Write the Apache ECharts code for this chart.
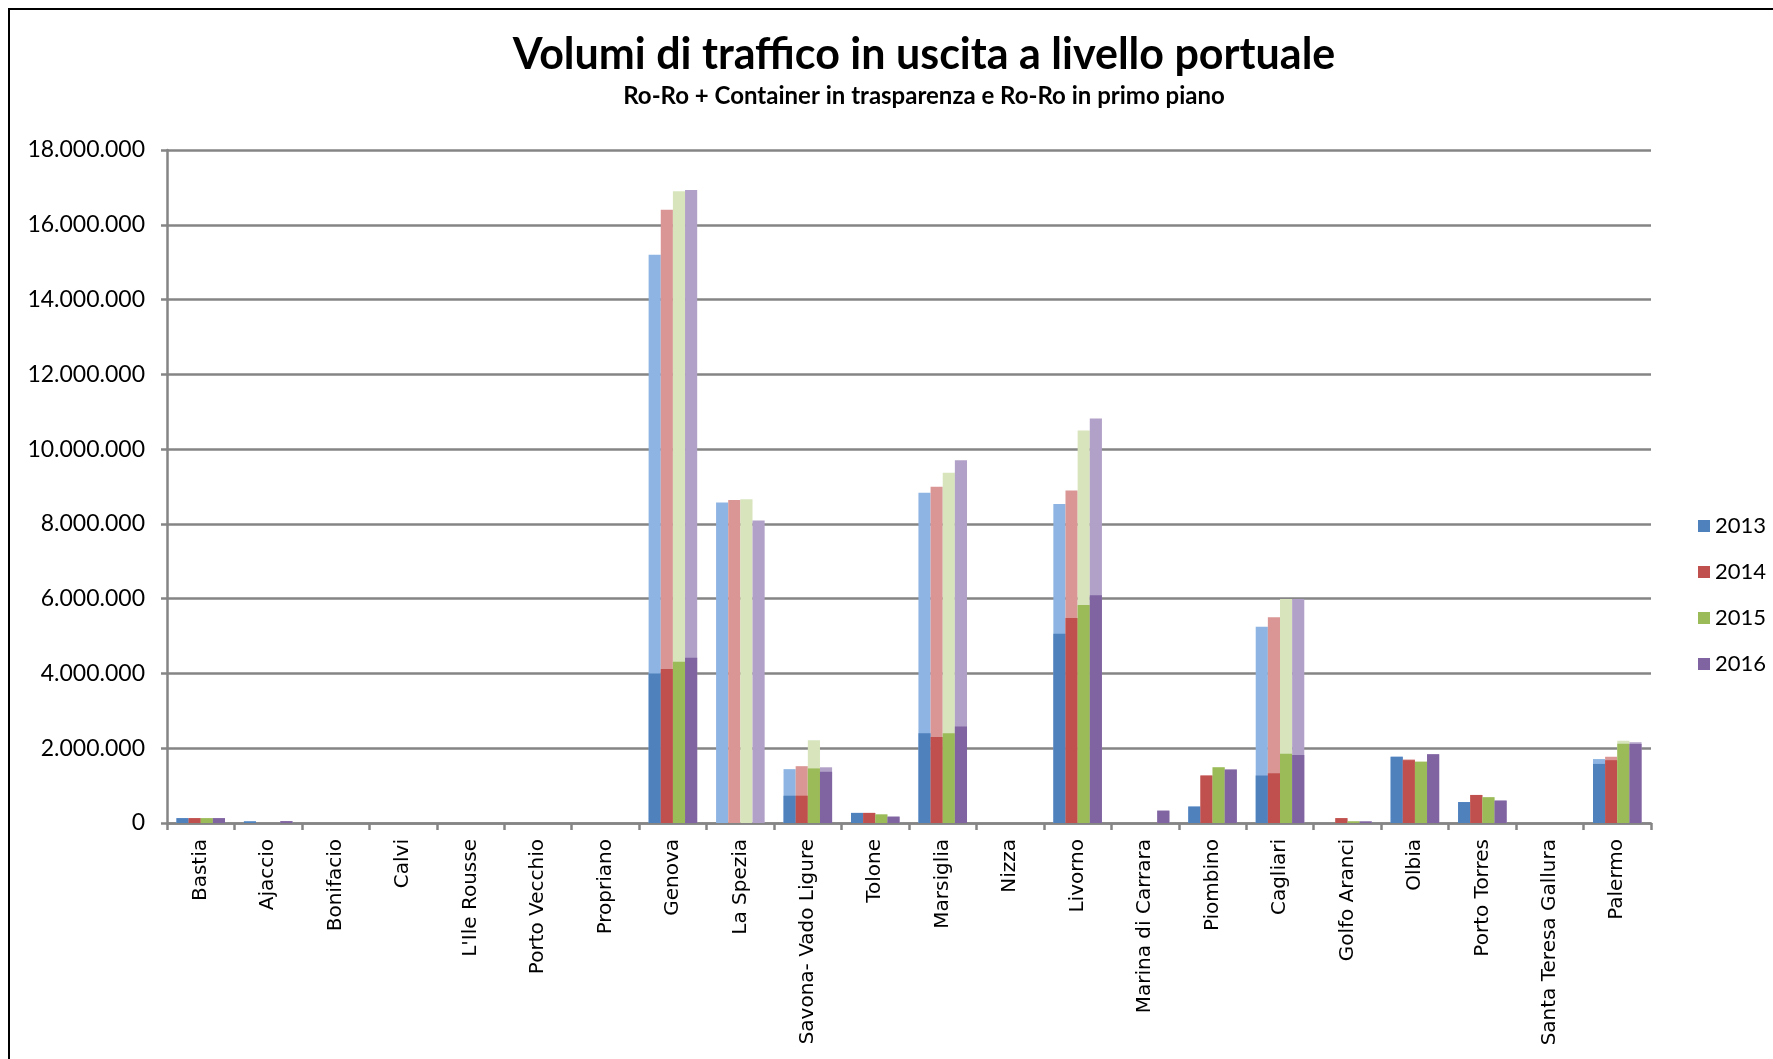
<!DOCTYPE html>
<html lang="it">
<head>
    <meta charset="UTF-8">
    <title>Volumi di traffico in uscita a livello portuale</title>
    <script src="https://cdn.jsdelivr.net/npm/echarts@6/dist/echarts.min.js"></script>
    <style>
        html, body { margin: 0; padding: 0; background: #fff; }
        #main { width: 1773px; height: 1059px; }
    </style>
</head>
<body>
<div id="main"></div>
<script>
    // porti
    var ports = ['Bastia', 'Ajaccio', 'Bonifacio', 'Calvi', "L'Ile Rousse", 'Porto Vecchio', 'Propriano',
        'Genova', 'La Spezia', 'Savona- Vado Ligure', 'Tolone', 'Marsiglia', 'Nizza', 'Livorno',
        'Marina di Carrara', 'Piombino', 'Cagliari', 'Golfo Aranci', 'Olbia', 'Porto Torres',
        'Santa Teresa Gallura', 'Palermo'];
    var years = ['2013', '2014', '2015', '2016'];

    // Ro-Ro + Container (in trasparenza)
    var tot2013 = [130000, 50000, 0, 0, 0, 0, 0, 15200000, 8570000, 1440000, 270000, 8830000, 0, 8530000, 0, 440000, 5250000, 0, 1770000, 560000, 0, 1710000];
    var tot2014 = [130000, 0, 0, 0, 0, 0, 0, 16400000, 8640000, 1520000, 270000, 8990000, 0, 8890000, 0, 1270000, 5500000, 130000, 1700000, 750000, 0, 1770000];
    var tot2015 = [130000, 0, 0, 0, 0, 0, 0, 16900000, 8660000, 2210000, 230000, 9370000, 0, 10500000, 0, 1490000, 5990000, 45000, 1640000, 690000, 0, 2200000];
    var tot2016 = [130000, 50000, 0, 0, 0, 0, 0, 16930000, 8090000, 1490000, 170000, 9700000, 0, 10820000, 330000, 1430000, 5990000, 45000, 1840000, 600000, 0, 2160000];

    // solo Ro-Ro (in primo piano)
    var roro2013 = [130000, 40000, 0, 0, 0, 0, 0, 4000000, 0, 730000, 270000, 2400000, 0, 5060000, 0, 440000, 1270000, 0, 1770000, 560000, 0, 1580000];
    var roro2014 = [130000, 0, 0, 0, 0, 0, 0, 4120000, 0, 730000, 270000, 2300000, 0, 5480000, 0, 1270000, 1330000, 130000, 1680000, 750000, 0, 1680000];
    var roro2015 = [130000, 0, 0, 0, 0, 0, 0, 4310000, 0, 1460000, 230000, 2400000, 0, 5830000, 0, 1490000, 1850000, 45000, 1640000, 690000, 0, 2120000];
    var roro2016 = [130000, 50000, 0, 0, 0, 0, 0, 4420000, 0, 1370000, 170000, 2580000, 0, 6090000, 330000, 1430000, 1820000, 40000, 1840000, 600000, 0, 2110000];

    var darkColors = ['#4F81BD', '#C0504D', '#9BBB59', '#8064A2'];
    var lightColors = ['#8DB4E2', '#DA9694', '#D7E4BC', '#B1A0C7'];

    var totals = [tot2013, tot2014, tot2015, tot2016];
    var roros = [roro2013, roro2014, roro2015, roro2016];

    function dotted(v) {
        return String(v).replace(/\B(?=(\d{3})+(?!\d))/g, '.');
    }

    var series = [];
    // prima le barre chiare, poi quelle scure sopra
    for (var i = 0; i < years.length; i++) {
        series.push({
            name: years[i] + ' Ro-Ro + Container',
            type: 'bar',
            xAxisIndex: 1,
            data: totals[i],
            barGap: '0%',
            barCategoryGap: '28%',
            itemStyle: {color: lightColors[i]},
            emphasis: {disabled: true}
        });
    }
    for (var j = 0; j < years.length; j++) {
        series.push({
            name: years[j],
            type: 'bar',
            xAxisIndex: 0,
            data: roros[j],
            barGap: '0%',
            barCategoryGap: '28%',
            itemStyle: {color: darkColors[j]},
            emphasis: {disabled: true}
        });
    }

    var myChart = echarts.init(document.getElementById('main'));
    var option = {
        animation: false,
        backgroundColor: '#fff',
        graphic: [
            {
                type: 'rect',
                shape: {x: 9, y: 9, width: 1800, height: 1100},
                style: {fill: 'none', stroke: '#000', lineWidth: 2}
            },
            {
                type: 'text',
                style: {
                    x: 924, y: 55, text: 'Volumi di traffico in uscita a livello portuale',
                    textAlign: 'center', textVerticalAlign: 'middle',
                    font: 'bold 43px Lato', fill: '#000'
                }
            },
            {
                type: 'text',
                style: {
                    x: 924, y: 96, text: 'Ro-Ro + Container in trasparenza e Ro-Ro in primo piano',
                    textAlign: 'center', textVerticalAlign: 'middle',
                    font: 'bold 24px Lato', fill: '#000'
                }
            }
        ],
        legend: {
            data: years,
            orient: 'vertical',
            left: 1693,
            top: 510,
            icon: 'rect',
            itemWidth: 12,
            itemHeight: 12,
            itemGap: 24,
            textStyle: {fontFamily: 'Lato', fontSize: 22, color: '#000'}
        },
        grid: {left: 167, right: 122, top: 150, bottom: 236},
        xAxis: [
            {
                type: 'category',
                data: ports,
                axisLine: {lineStyle: {color: '#858585', width: 2.5}},
                axisTick: {show: true, length: 7, lineStyle: {color: '#858585', width: 2.5}},
                axisLabel: {
                    interval: 0, rotate: 90, margin: 16,
                    fontFamily: 'DejaVu Sans', fontSize: 20, color: '#000'
                }
            },
            {
                type: 'category',
                data: ports,
                show: false
            }
        ],
        yAxis: {
            type: 'value',
            min: 0,
            max: 18000000,
            interval: 2000000,
            axisLine: {show: true, lineStyle: {color: '#858585', width: 2.5}},
            axisTick: {show: true, length: 6, lineStyle: {color: '#858585', width: 2.5}},
            splitLine: {lineStyle: {color: '#858585', width: 2.5}},
            axisLabel: {
                margin: 22,
                fontFamily: 'Lato', fontSize: 23, color: '#000',
                formatter: dotted
            }
        },
        series: series
    };
    myChart.setOption(option, true);
</script>
</body>
</html>
